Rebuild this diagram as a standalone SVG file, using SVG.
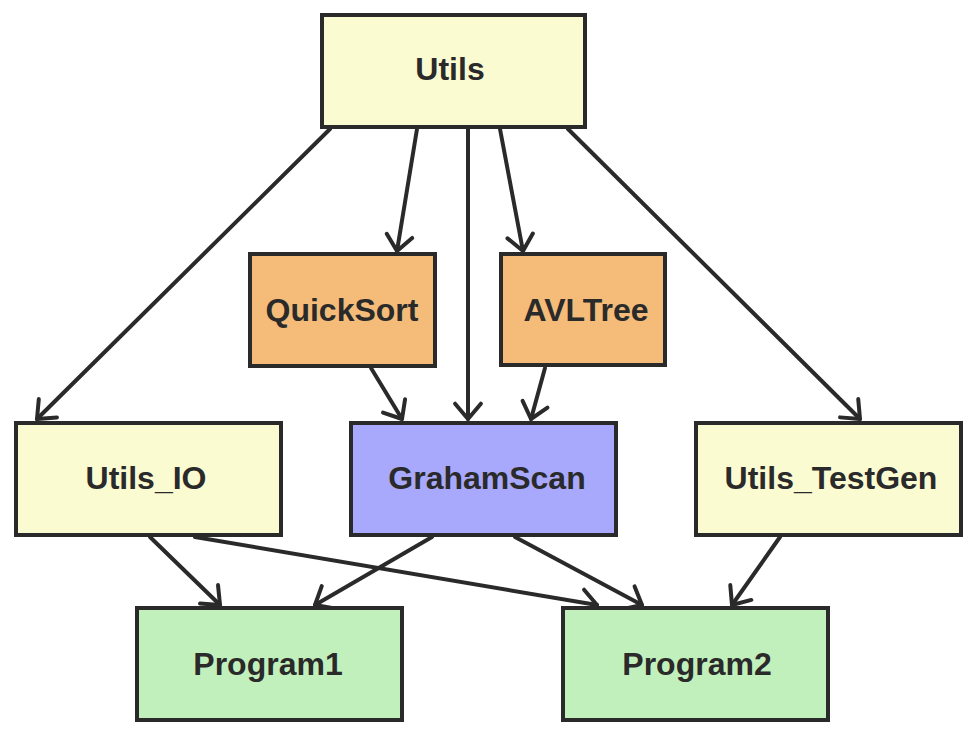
<svg xmlns="http://www.w3.org/2000/svg" width="976" height="735" viewBox="0 0 976 735">
<style>
.box{stroke:#2a2a2a;stroke-width:4}
.y{fill:#fbfbd2}.o{fill:#f4bc78}.b{fill:#a8a8fc}.g{fill:#c2f0bc}
text{font-family:"Liberation Sans",Arial,sans-serif;font-weight:bold;font-size:32px;fill:#2a2a2a;text-anchor:middle}
.e{stroke:#2a2a2a;stroke-width:4;fill:none;stroke-linecap:round;marker-end:url(#arr)}
</style>
<defs>
<marker id="arr" markerUnits="userSpaceOnUse" viewBox="-25 -25 50 50" markerWidth="50" markerHeight="50" refX="0" refY="0" orient="auto" overflow="visible">
<path d="M-15.3,-12.9 L0,0 L-15.3,12.9" fill="none" stroke="#2a2a2a" stroke-width="4" stroke-linecap="round" stroke-linejoin="round"/>
</marker>
</defs>
<rect width="976" height="735" fill="#ffffff"/>
<g id="connectors">
<path class="e" d="M330,129 L37,419"/>
<path class="e" d="M417,129 L397,251"/>
<path class="e" d="M468,129 L468,419"/>
<path class="e" d="M500,129 L523,251"/>
<path class="e" d="M568,129 L860,419"/>
<path class="e" d="M371,368 L402,419"/>
<path class="e" d="M545,368 L531,419"/>
<path class="e" d="M150,537 L220,605"/>
<path class="e" d="M195,537 L597,605"/>
<path class="e" d="M432,537 L315,605"/>
<path class="e" d="M515,537 L642,605"/>
<path class="e" d="M780,537 L732,605"/>
</g>
<g id="Utils"><rect class="box y" x="322" y="15" width="263" height="112"/><text x="450" y="80">Utils</text></g>
<g id="QuickSort"><rect class="box o" x="250" y="254" width="185" height="112"/><text x="342" y="321">QuickSort</text></g>
<g id="AVLTree"><rect class="box o" x="501" y="254" width="164" height="111"/><text x="586" y="321">AVLTree</text></g>
<g id="Utils_IO"><rect class="box y" x="16" y="423" width="265" height="112"/><text x="146" y="489">Utils_IO</text></g>
<g id="GrahamScan"><rect class="box b" x="351" y="423" width="265" height="112"/><text x="487" y="489">GrahamScan</text></g>
<g id="Utils_TestGen"><rect class="box y" x="696" y="423" width="265" height="112"/><text x="831" y="489">Utils_TestGen</text></g>
<g id="Program1"><rect class="box g" x="137" y="608" width="265" height="112"/><text x="268" y="675">Program1</text></g>
<g id="Program2"><rect class="box g" x="563" y="608" width="265" height="112"/><text x="697" y="675">Program2</text></g>
</svg>
